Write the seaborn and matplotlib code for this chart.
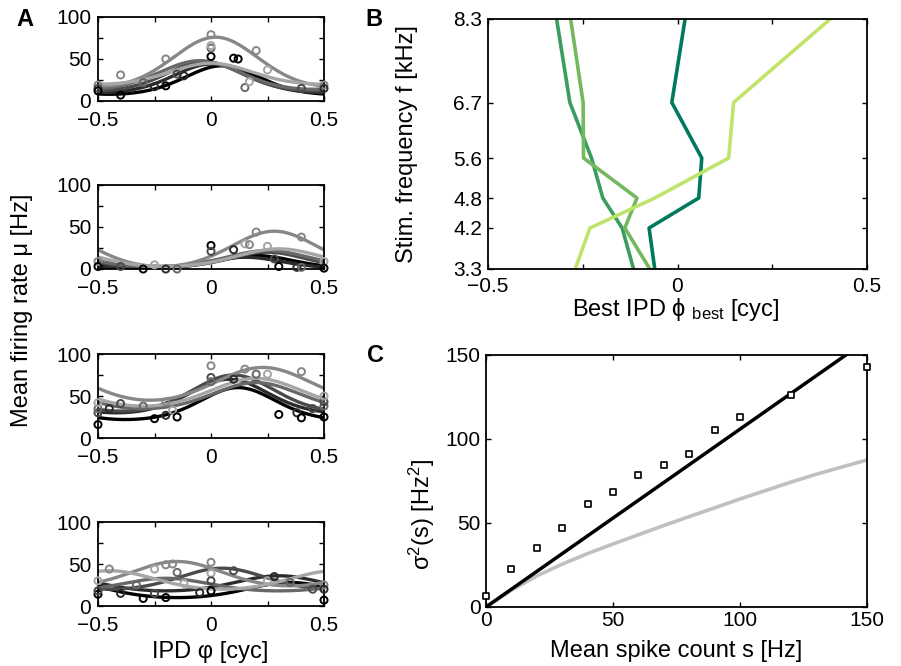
import numpy as np
import pandas as pd
import matplotlib
matplotlib.use("Agg")
import matplotlib.pyplot as plt
import seaborn as sns

# ---------------- data ----------------
# Panel A: tuning-curve fits (min rate, peak rate, best IPD, sharpness) per series, 4 sub-panels x 6 series
A_rmin = [[8, 10, 12, 14, 18, 20],
          [1, 1, 2, 3, 3, 3],
          [22, 30, 32, 35, 45, 38],
          [10, 18, 20, 18, 24, 20]]
A_rmax = [[42, 44, 47, 48, 76, 45],
          [16, 14, 20, 22, 45, 24],
          [60, 70, 75, 66, 84, 71],
          [28, 36, 45, 33, 53, 42]]
A_best = [[0.05, 0.0, -0.03, -0.05, 0.02, 0.0],
          [0.2, 0.15, 0.25, 0.25, 0.28, 0.3],
          [0.12, 0.08, 0.1, 0.2, 0.23, 0.2],
          [0.35, 0.3, 0.05, -0.2, -0.15, -0.45]]
A_k = [[0.8, 0.8, 0.8, 0.6, 0.5, 0.6],
       [0.8, 0.8, 0.8, 0.6, 0.5, 0.5],
       [0.8, 0.7, 0.6, 0.5, 0.3, 0.4],
       [0.5, 0.5, 0.5, 0.5, 0.4, 0.4]]

# Panel A: measured points (IPD, rate, series index)
A_pt_phi = [
    [-0.5, -0.5, -0.5, -0.4, -0.4, -0.3, -0.25, -0.2, -0.2, -0.15, -0.12, 0, 0, 0, 0, 0.1, 0.12, 0.15, 0.17, 0.2, 0.25, 0.4, 0.5, 0.5],
    [-0.5, -0.5, -0.4, -0.3, -0.25, -0.2, -0.15, 0, 0, 0.1, 0.15, 0.17, 0.2, 0.25, 0.28, 0.3, 0.38, 0.4, 0.4, 0.5, 0.5],
    [-0.5, -0.5, -0.5, -0.5, -0.45, -0.4, -0.3, -0.25, -0.2, -0.2, -0.17, -0.15, 0, 0, 0, 0.15, 0.1, 0.2, 0.25, 0.3, 0.38, 0.4, 0.4, 0.45, 0.5, 0.5, 0.5, 0.5],
    [-0.5, -0.5, -0.5, -0.45, -0.4, -0.33, -0.3, -0.25, -0.25, -0.2, -0.17, -0.2, -0.15, -0.12, -0.05, 0, 0, 0, 0, 0.1, 0.25, 0.28, 0.35, 0.45, 0.5, 0.5, 0.5],
]
A_pt_rate = [
    [19, 15, 12, 31, 7, 22, 17, 18, 50, 32, 30, 53, 63, 66, 79, 51, 50, 16, 23, 60, 37, 15, 19, 15],
    [9, 3, 3, 0, 5, 0, 0, 28, 21, 23, 30, 29, 44, 27, 12, 3, 2, 38, 2, 9, 1],
    [16, 30, 35, 42, 35, 41, 38, 23, 27, 43, 33, 25, 86, 72, 67, 82, 70, 76, 76, 28, 30, 24, 79, 35, 25, 38, 43, 50],
    [30, 14, 18, 44, 15, 25, 9, 44, 15, 49, 50, 10, 40, 27, 16, 52, 39, 30, 18, 42, 30, 35, 28, 20, 7, 25, 20],
]
A_pt_series = [
    [4, 2, 0, 4, 0, 3, 1, 0, 4, 2, 1, 0, 3, 5, 4, 0, 0, 3, 5, 4, 5, 2, 4, 1],
    [4, 0, 2, 0, 5, 1, 3, 0, 2, 1, 5, 4, 4, 5, 2, 0, 1, 4, 3, 5, 0],
    [0, 2, 3, 5, 1, 2, 3, 0, 1, 4, 5, 0, 4, 2, 3, 4, 1, 3, 5, 0, 1, 0, 4, 2, 0, 3, 2, 5],
    [5, 0, 2, 4, 1, 3, 0, 5, 2, 4, 4, 0, 3, 5, 1, 4, 5, 2, 0, 2, 5, 1, 3, 2, 0, 4, 1],
]
A_grays = ["#000000", "#2b2b2b", "#4a4a4a", "#686868", "#878787", "#a6a6a6"]

# Panel B: best IPD vs stimulation frequency
B_freq = [3.30, 4.12, 4.72, 5.52, 6.63, 8.30]
B_freq_labels = ["3.3", "4.2", "4.8", "5.6", "6.7", "8.3"]
B_ipd = {
    "n1": [-0.060, -0.075, 0.056, 0.064, -0.015, 0.020],
    "n2": [-0.116, -0.146, -0.197, -0.227, -0.284, -0.319],
    "n3": [-0.073, -0.139, -0.107, -0.248, -0.249, -0.282],
    "n4": [-0.270, -0.231, -0.060, 0.135, 0.148, 0.403],
}
B_colors = {"n1": "#007a5c", "n2": "#3a9c5e", "n3": "#75b95e", "n4": "#c2e36b"}

# Panel C: variance vs mean spike count
C_pts_x = [0, 10, 20, 30, 40, 50, 60, 70, 80, 90, 100, 120, 150]
C_pts_y = [6.8, 22.8, 35.2, 47.3, 61.2, 68.5, 78.7, 84.6, 91.0, 105.3, 113.3, 126.2, 143.1]
C_fit_x = [0, 150]
C_fit_y = [0, 158.8]
C_curve_x = [0, 10, 20, 30, 40, 50, 60, 70, 80, 90, 100, 110, 120, 130, 140, 150]
C_curve_y = [0, 10.0, 18.5, 25.5, 31.8, 37.5, 43.0, 48.5, 53.8, 59.0, 64.3, 69.3, 74.3, 79.0, 83.3, 87.5]

# ---------------- style ----------------
sns.set_theme(style="ticks")
plt.rcParams["font.family"] = ["Liberation Sans", "DejaVu Sans"]
plt.rcParams["mathtext.fontset"] = "custom"
plt.rcParams["mathtext.rm"] = "Liberation Sans"
plt.rcParams["mathtext.it"] = "Liberation Sans:italic"
plt.rcParams["axes.linewidth"] = 1.3
plt.rcParams["axes.edgecolor"] = "black"
plt.rcParams["text.color"] = "black"
plt.rcParams["axes.labelcolor"] = "black"
plt.rcParams["xtick.color"] = "black"
plt.rcParams["ytick.color"] = "black"

TICK_FS = 15
LABEL_FS = 17

W, H = 901, 666
fig = plt.figure(figsize=(W / 100, H / 100), dpi=100)


def add_ax(l, t, r, b):
    return fig.add_axes([l / W, 1 - b / H, (r - l) / W, (b - t) / H])


def ftext(x, y, s, **kw):
    fig.text(x / W, 1 - y / H, s, color="black", **kw)


def style_ax(ax, xpad=4, ypad=4):
    ax.tick_params(direction="in", top=True, right=True, length=3.5, width=1.0,
                   labelsize=TICK_FS, colors="black")
    ax.tick_params(axis="x", pad=xpad)
    ax.tick_params(axis="y", pad=ypad)
    for s in ax.spines.values():
        s.set_visible(True)
        s.set_color("black")
        s.set_linewidth(1.3)
    ax.set_xlabel("")
    ax.set_ylabel("")


def tuning(phi, rmin, rmax, best, k):
    amp = (rmax - rmin) / (1 - np.exp(-2 * k))
    return rmax - amp + amp * np.exp(k * (np.cos(2 * np.pi * (phi - best)) - 1))


phi_grid = np.linspace(-0.5, 0.5, 201)
A_rows = [(17, 101), (185, 269), (354, 438), (522, 606)]
for i, (t, b) in enumerate(A_rows):
    ax = add_ax(98, t, 324, b)
    frames = []
    for j in range(6):
        frames.append(pd.DataFrame({
            "phi": phi_grid,
            "rate": tuning(phi_grid, A_rmin[i][j], A_rmax[i][j], A_best[i][j], A_k[i][j]),
            "series": j}))
    cdf = pd.concat(frames)
    sns.lineplot(data=cdf, x="phi", y="rate", hue="series", palette=A_grays,
                 hue_order=list(range(6)), lw=2.4, legend=False, ax=ax,
                 estimator=None, sort=False)
    pdf = pd.DataFrame({"phi": A_pt_phi[i], "rate": A_pt_rate[i], "series": A_pt_series[i]})
    sns.scatterplot(data=pdf, x="phi", y="rate", hue="series", palette=A_grays,
                    hue_order=list(range(6)), s=26, legend=False, ax=ax, zorder=5,
                    clip_on=False)
    coll = ax.collections[-1]
    fc = coll.get_facecolors()
    coll.set_edgecolors(fc)
    coll.set_facecolors("none")
    coll.set_linewidths(1.4)
    ax.set_xlim(-0.5, 0.5)
    ax.set_ylim(0, 100)
    ax.set_xticks([-0.5, -0.25, 0, 0.25, 0.5])
    ax.set_xticklabels(["\u22120.5", "", "0", "", "0.5"])
    ax.set_yticks([0, 25, 50, 75, 100])
    ax.set_yticklabels(["0", "", "50", "", "100"])
    style_ax(ax, xpad=7, ypad=5)

ftext(22, 310, "Mean firing rate \u03bc [Hz]", rotation=90, ha="center", va="center", fontsize=LABEL_FS)
ftext(210, 658, "IPD \u03c6 [cyc]", ha="center", va="baseline", fontsize=LABEL_FS)
ftext(25, 19, "A", ha="center", va="center", fontsize=17, fontweight="bold")

# ---------------- Panel B ----------------
axB = add_ax(488, 19, 867, 269)
rows = []
for key, vals in B_ipd.items():
    for f, v in zip(B_freq, vals):
        rows.append({"neuron": key, "freq": f, "ipd": v})
bdf = pd.DataFrame(rows)
sns.lineplot(data=bdf, x="ipd", y="freq", hue="neuron", palette=B_colors,
             lw=2.6, legend=False, ax=axB, estimator=None, sort=False)
axB.set_xlim(-0.5, 0.5)
axB.set_ylim(3.3, 8.3)
axB.set_xticks([-0.5, -0.25, 0, 0.25, 0.5])
axB.set_xticklabels(["\u22120.5", "", "0", "", "0.5"])
axB.set_yticks(B_freq)
axB.set_yticklabels(B_freq_labels)
style_ax(axB, xpad=6, ypad=4)
ftext(407, 144, "Stim. frequency f [kHz]", rotation=90, ha="center", va="center", fontsize=LABEL_FS)
ftext(676, 316, r"Best IPD $\mathregular{\phi}$ $_{\mathregular{best}}$ [cyc]", ha="center",
      va="baseline", fontsize=LABEL_FS)
ftext(374, 19, "B", ha="center", va="center", fontsize=17, fontweight="bold")

# ---------------- Panel C ----------------
axC = add_ax(486, 355, 867, 607)
sns.lineplot(x=C_curve_x, y=C_curve_y, color="#c0c0c0", lw=2.6, ax=axC)
sns.lineplot(x=C_fit_x, y=C_fit_y, color="black", lw=2.5, ax=axC)
sns.scatterplot(x=C_pts_x, y=C_pts_y, marker="s", s=18, facecolor="white",
                edgecolor="black", linewidth=1.2, ax=axC, zorder=5, clip_on=False)
axC.set_xlim(0, 150)
axC.set_ylim(0, 150)
axC.set_xticks([0, 50, 100, 150])
axC.set_yticks([0, 50, 100, 150])
style_ax(axC, xpad=3, ypad=4)
ftext(422, 514, r"$\mathregular{\sigma^2}$(s) [Hz$^{\mathregular{2}}$]", rotation=90,
      ha="center", va="center", fontsize=LABEL_FS)
ftext(676, 657, "Mean spike count s [Hz]", ha="center", va="baseline", fontsize=LABEL_FS)
ftext(375, 355, "C", ha="center", va="center", fontsize=17, fontweight="bold")

fig.savefig("out.png", dpi=100)
